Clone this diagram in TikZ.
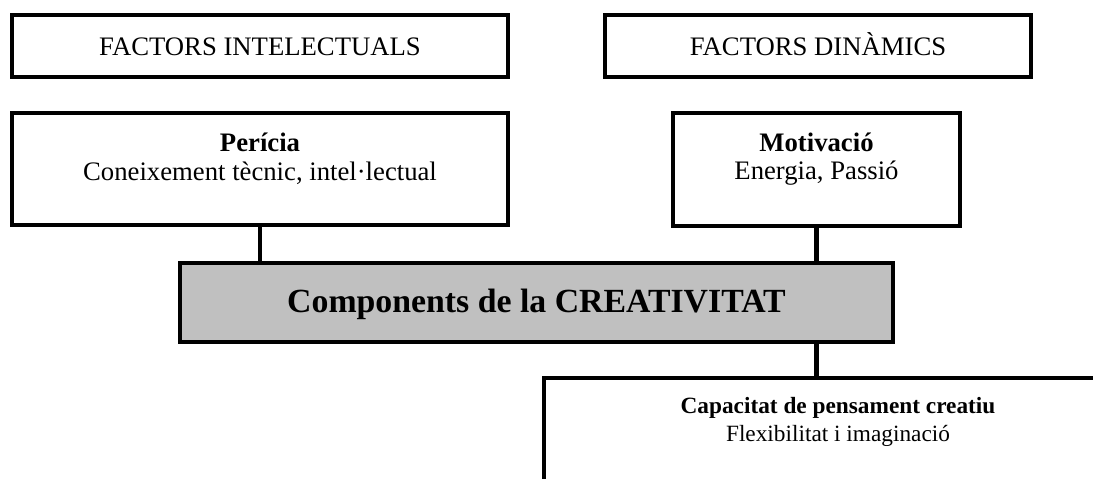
\documentclass[tikz,border=0pt]{standalone}
\usepackage{fontspec}
\setmainfont{Liberation Serif}
\usetikzlibrary{calc}
\definecolor{boxgrey}{RGB}{192,192,192}
\begin{document}
\begin{tikzpicture}[x=1bp,y=-1bp,
  frame/.style={draw=black, line width=4.5bp, rectangle, inner sep=0pt, outer sep=0pt, anchor=north west},
  conn/.style={draw=black, line width=4.5bp},
  txt/.style={inner sep=0pt, anchor=base, font=\fontsize{26.7bp}{30bp}\selectfont},
  txtsmall/.style={inner sep=0pt, anchor=base, font=\fontsize{23.3bp}{27bp}\selectfont},
  title/.style={inner sep=0pt, anchor=base, font=\fontsize{33.8bp}{38bp}\selectfont\bfseries}]
\useasboundingbox (0,0) rectangle (1093,479);
\clip (0,0) rectangle (1093,479);

% headings
\node[frame, minimum width=496bp, minimum height=62bp] (fi) at (12,15) {};
\node[frame, minimum width=426bp, minimum height=62bp] (fd) at (605,15) {};
\node[txt] (fit) at ($(fi.north)+(0,41)$) {FACTORS INTELECTUALS};
\node[txt] (fdt) at ($(fd.north)+(0,41)$) {FACTORS DINÀMICS};

% components
\node[frame, minimum width=496bp, minimum height=112bp] (per) at (12,113) {};
\node[frame, minimum width=287bp, minimum height=113bp] (mot) at (673,113) {};
\node[frame, fill=boxgrey, minimum width=713bp, minimum height=79bp] (cre) at (180,263) {};
\node[frame, minimum width=588bp, minimum height=160bp] (cap) at (544,378) {};

% texts
\node[txt] (pert) at ($(per.north)+(0,39)$) {\textbf{Perícia}};
\node[txt] (perd) at ($(per.north)+(0,68)$) {Coneixement tècnic, intel·lectual};
\node[txt] (mott) at ($(mot.north)+(0,39)$) {\textbf{Motivació}};
\node[txt] (motd) at ($(mot.north)+(0,67)$) {Energia, Passió};
\node[title] (cret) at ($(cre.north)+(0,50)$) {Components de la CREATIVITAT};
\node[txtsmall] (capt) at ($(cap.north)+(0,35)$) {\textbf{Capacitat de pensament creatiu}};
\node[txtsmall] (capd) at ($(cap.north)+(0,63)$) {Flexibilitat i imaginació};

% connectors
\draw[conn] (per.south) -- (per.south |- cre.north);
\draw[conn] (mot.south) -- (mot.south |- cre.north);
\draw[conn] (cre.south -| mot.south) -- (cap.north -| mot.south);
\end{tikzpicture}
\end{document}
